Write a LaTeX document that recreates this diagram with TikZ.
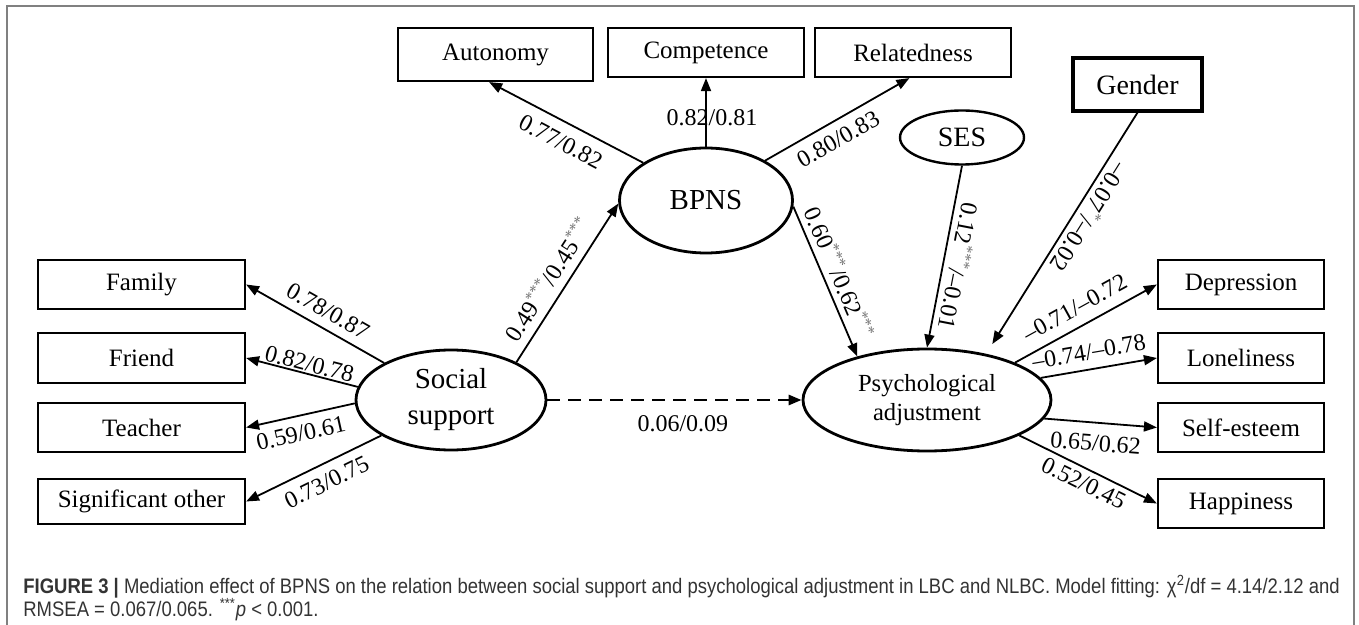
\documentclass[tikz,border=0pt]{standalone}
\usepackage{fontspec}
\setmainfont{Liberation Serif}
\newfontfamily\capfont[FakeStretch=0.88]{Liberation Sans}
\usetikzlibrary{arrows.meta,shapes.geometric}
\newcommand\starmark[1]{\textsuperscript{\color{black!55}#1}}

\begin{document}
\begin{tikzpicture}[x=0.5pt,y=-0.5pt,
  obs/.style={draw,rectangle,line width=1.1pt,inner sep=0pt,
    font=\fontsize{12.5}{15}\selectfont},
  lat/.style={draw,ellipse,line width=1.4pt,inner sep=0pt,align=center},
  link/.style={-{Triangle[length=6.5pt,width=5pt]},line width=0.9pt},
  coef/.style={font=\fontsize{12}{14}\selectfont,inner sep=1pt},
  scoef/.style={coef,sloped}]

\useasboundingbox (0,0) rectangle (1359,625);
% frame
\draw[black!50,line width=0.7pt] (7,625) -- (7,6) -- (1354,6) -- (1354,625);

% BPNS indicators
\node[obs,minimum width=97.5pt,minimum height=26.5pt] (autonomy) at (495.5,54.5) {Autonomy};
\node[obs,minimum width=98pt,minimum height=24.5pt] (competence) at (706,52.5) {Competence};
\node[obs,minimum width=98pt,minimum height=24.5pt] (relatedness) at (913,52.5) {Relatedness};

% covariates
\node[obs,line width=1.6pt,minimum width=64.5pt,minimum height=26.5pt,
  font=\fontsize{14}{16}\selectfont] (gender) at (1137.5,84.5) {Gender};
\node[lat,line width=1.2pt,minimum width=62pt,minimum height=27pt,
  font=\fontsize{14}{16}\selectfont] (ses) at (962,137.5) {SES};

% latent variables
\node[lat,minimum width=86.5pt,minimum height=52.5pt,
  font=\fontsize{14.5}{18}\selectfont] (bpns) at (706,200.5) {BPNS};
\node[lat,minimum width=95pt,minimum height=50pt,
  font=\fontsize{14.5}{18}\selectfont] (social) at (451,400) {Social\\support};
\node[lat,minimum width=124pt,minimum height=51pt,
  font=\fontsize{12.3}{14.5}\selectfont] (psych) at (927,400) {Psychological\\adjustment};

% social support indicators
\node[obs,minimum width=103.5pt,minimum height=24.5pt] (family) at (141.5,284.5) {Family};
\node[obs,minimum width=103.5pt,minimum height=25pt] (friend) at (141.5,358) {Friend};
\node[obs,minimum width=103.5pt,minimum height=24.5pt] (teacher) at (141.5,427.5) {Teacher};
\node[obs,minimum width=103.5pt,minimum height=22.5pt] (sigother) at (141.5,501.5) {Significant other};

% adjustment indicators
\node[obs,minimum width=83pt,minimum height=24.5pt] (depression) at (1241,284.5) {Depression};
\node[obs,minimum width=83pt,minimum height=25pt] (loneliness) at (1241,358) {Loneliness};
\node[obs,minimum width=83pt,minimum height=24.5pt] (selfesteem) at (1241,427.5) {Self-esteem};
\node[obs,minimum width=83pt,minimum height=24.5pt] (happiness) at (1241,503.5) {Happiness};

% BPNS loadings
\draw[link] (bpns.149) -- node[scoef,below=4.25pt,pos=0.476] {0.77/0.82} (autonomy.257);
\draw[link] (bpns.north) -- node[coef,pos=0.42,xshift=3pt] {0.82/0.81} (competence.south);
\draw[link] (bpns.34) -- node[scoef,below=3.25pt,pos=0.446] {0.80/0.83} (relatedness.262);

% structural paths
\draw[link] (social.30.2) -- node[scoef,above=3pt,pos=0.46]
  {0.49\starmark{***}/0.45\starmark{***}} (bpns.182);
\draw[link] (bpns.-4) -- node[scoef,above=2pt,pos=0.483]
  {0.60\starmark{***}/0.62\starmark{***}} (psych.148.4);
\draw[link,dashed,dash pattern=on 6.5pt off 4pt,line width=1.4pt] (social.east) --
  node[coef,below=6.25pt,pos=0.533] {0.06/0.09} (psych.west);
\draw[link] (ses.south) -- node[scoef,allow upside down,above=2pt,pos=0.534]
  {0.12\starmark{***}/\textendash0.01} (psych.north);
\draw[link,shorten >=5.75pt] (gender.south) -- node[scoef,allow upside down,above=1.5pt,pos=0.4]
  {\textendash0.07\starmark{*}/\textendash0.02} (psych.38.5);

% social support loadings
\draw[link] (social.151.8) -- node[scoef,above=3pt,pos=0.468] {0.78/0.87} (family.east);
\draw[link] (social.172.7) -- node[scoef,above=-0.5pt,pos=0.455] {0.82/0.78} (friend.east);
\draw[link] (social.182.4) -- node[scoef,below=3.25pt,pos=0.53] {0.59/0.61} (teacher.east);
\draw[link] (social.207.6) -- node[scoef,below=3.5pt,pos=0.463] {0.73/0.75} (sigother.east);

% adjustment loadings
\draw[link] (psych.23.1) -- node[scoef,above=4pt,pos=0.486] {\textendash0.71/\textendash0.72} (depression.west);
\draw[link] (psych.11.4) -- node[scoef,above=3.25pt,pos=0.44] {\textendash0.74/\textendash0.78} (loneliness.west);
\draw[link] (psych.-9.1) -- node[scoef,below=4.75pt,pos=0.47] {0.65/0.62} (selfesteem.west);
\draw[link] (psych.-21.6) -- node[scoef,below=1.6pt,pos=0.514] {0.52/0.45} (happiness.west);

% caption
\node[anchor=base west,inner sep=0pt,text=black!80,font=\capfont\fontsize{10.5}{12}\selectfont]
  (cap1) at (23,593) {\textbf{FIGURE 3 |} Mediation effect of BPNS on the relation between social support and psychological adjustment in LBC and NLBC. Model fitting: χ\textsuperscript{2}/df = 4.14/2.12 and};
\node[anchor=base west,inner sep=0pt,text=black!80,font=\capfont\fontsize{10.5}{12}\selectfont]
  (cap2) at (23,616) {RMSEA = 0.067/0.065. \textsuperscript{***}\textit{p} < 0.001.};
\end{tikzpicture}
\end{document}
